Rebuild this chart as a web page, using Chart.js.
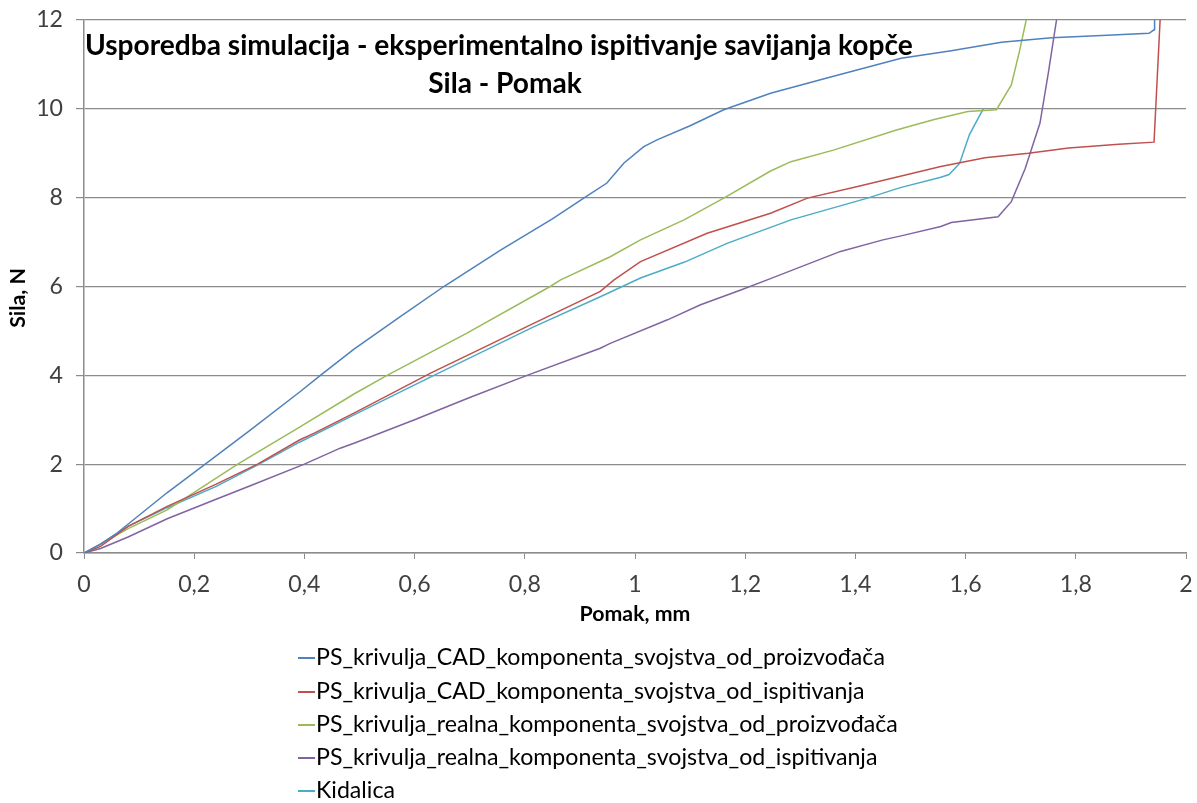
<!DOCTYPE html>
<html><head><meta charset="utf-8">
<script src="https://cdn.jsdelivr.net/npm/chart.js@4.4.1/dist/chart.umd.min.js"></script>
<style>html,body{margin:0;padding:0;background:#fff;}#wrap{width:1197px;height:803px;}</style>
</head><body><div id="wrap"><canvas id="c" width="1197" height="803"></canvas></div>
<script>
// ---- data ----
const seriesNames = [
  'PS_krivulja_CAD_komponenta_svojstva_od_proizvođača',
  'PS_krivulja_CAD_komponenta_svojstva_od_ispitivanja',
  'PS_krivulja_realna_komponenta_svojstva_od_proizvođača',
  'PS_krivulja_realna_komponenta_svojstva_od_ispitivanja',
  'Kidalica'
];
const cadProizX = [0,0.03,0.06,0.1,0.15,0.22,0.3,0.392,0.429,0.49,0.574,0.653,0.756,0.85,0.907,0.949,0.98,1.016,1.04,1.1,1.161,1.246,1.35,1.483,1.574,1.665,1.756,1.847,1.933,1.942,1.943];
const cadProizY = [0,0.2,0.45,0.85,1.35,2.0,2.75,3.63,4.0,4.59,5.32,6.0,6.82,7.52,7.99,8.33,8.78,9.15,9.3,9.62,9.98,10.35,10.7,11.14,11.31,11.5,11.6,11.65,11.7,11.78,12];
const cadIspX = [0,0.03,0.08,0.151,0.24,0.315,0.392,0.418,0.49,0.629,0.816,0.937,0.962,1.01,1.131,1.246,1.313,1.404,1.555,1.635,1.714,1.787,1.878,1.942,1.945,1.953];
const cadIspY = [0,0.15,0.6,1.05,1.55,2.0,2.55,2.7,3.15,4.05,5.17,5.89,6.15,6.56,7.2,7.65,7.99,8.25,8.7,8.9,9.0,9.12,9.2,9.25,10,12];
const realProizX = [0,0.03,0.08,0.151,0.279,0.392,0.49,0.55,0.695,0.846,0.865,0.955,1.01,1.089,1.161,1.246,1.283,1.36,1.476,1.543,1.604,1.656,1.683,1.698,1.71];
const realProizY = [0,0.2,0.55,0.97,2.0,2.84,3.58,4.0,4.95,6.0,6.15,6.67,7.05,7.5,7.99,8.6,8.81,9.07,9.53,9.76,9.94,9.98,10.54,11.31,12];
const realIspX = [0,0.03,0.08,0.151,0.242,0.303,0.4,0.465,0.49,0.6,0.7,0.804,0.937,0.955,1.059,1.119,1.192,1.24,1.373,1.45,1.483,1.555,1.574,1.659,1.683,1.708,1.735,1.75,1.765];
const realIspY = [0,0.1,0.36,0.77,1.22,1.52,2.0,2.36,2.47,3.0,3.5,4.0,4.61,4.72,5.25,5.59,5.92,6.15,6.79,7.05,7.14,7.35,7.44,7.57,7.91,8.65,9.68,10.8,12];
const kidalicaX = [0,0.03,0.08,0.151,0.24,0.318,0.392,0.49,0.635,0.816,0.937,1.01,1.09,1.167,1.283,1.422,1.48,1.555,1.57,1.589,1.607,1.632];
const kidalicaY = [0,0.2,0.6,1.02,1.5,2.0,2.5,3.11,4.0,5.09,5.77,6.19,6.55,6.97,7.5,7.99,8.22,8.46,8.52,8.77,9.42,10.0];
const xTickValues = [0,0.2,0.4,0.6,0.8,1,1.2,1.4,1.6,1.8,2];
const xTickLabels = ['0','0,2','0,4','0,6','0,8','1','1,2','1,4','1,6','1,8','2'];
const yTickValues = [0,2,4,6,8,10,12];
const titleLines = ['Usporedba simulacija - eksperimentalno ispitivanje savijanja kopče','Sila - Pomak'];
const xTitle = 'Pomak, mm';
const yTitle = 'Sila, N';
const colors = ['#4F81BD','#C0504D','#9BBB59','#8064A2','#4BACC6'];

// ---- helpers ----
const FAM = 'Lato, "Open Sans", "Liberation Sans", sans-serif';
const mctx = document.createElement('canvas').getContext('2d');
function fit(text, weight, target){ mctx.font = weight+' 100px '+FAM; return 100*target/mctx.measureText(text).width; }
const legendSize = fit(seriesNames[0], 'normal', 569);
const titleSize = fit(titleLines[0], 'bold', 828);
const tickSize = legendSize;

function pts(xs, ys){ return xs.map((x,i)=>({x:x, y:ys[i]})); }
const xy = [[cadProizX,cadProizY],[cadIspX,cadIspY],[realProizX,realProizY],[realIspX,realIspY],[kidalicaX,kidalicaY]];

const decor = {
  id:'decor',
  afterDraw(chart){
    const ctx = chart.ctx; const a = chart.chartArea;
    ctx.save();
    ctx.fillStyle = '#000';
    ctx.font = 'bold '+titleSize.toFixed(2)+'px '+FAM;
    ctx.textBaseline = 'alphabetic';
    ctx.textAlign = 'left';
    ctx.fillText(titleLines[0], 85, 55);
    ctx.textAlign = 'center';
    ctx.fillText(titleLines[1], 505, 93);
    ctx.font = 'bold '+(tickSize*0.92).toFixed(2)+'px '+FAM;
    ctx.textBaseline = 'middle';
    ctx.fillText(xTitle, (a.left+a.right)/2, 614);
    ctx.save();
    ctx.translate(18, 298);
    ctx.rotate(-Math.PI/2);
    ctx.fillText(yTitle, 0, 0);
    ctx.restore();
    ctx.font = legendSize.toFixed(2)+'px '+FAM;
    ctx.textAlign = 'left';
    const rows = [658, 692, 725, 758, 791];
    chart.data.datasets.forEach((ds,i)=>{
      ctx.strokeStyle = ds.borderColor; ctx.lineWidth = 2;
      ctx.beginPath(); ctx.moveTo(298, rows[i]); ctx.lineTo(315, rows[i]); ctx.stroke();
      ctx.fillStyle = '#000';
      ctx.fillText(ds.label, 316, rows[i]);
    });
    ctx.restore();
  }
};

new Chart(document.getElementById('c'), {
  type:'line',
  data:{ datasets: seriesNames.map((n,i)=>({
    label:n, data:pts(xy[i][0], xy[i][1]), borderColor:colors[i], backgroundColor:colors[i],
    borderWidth:1.5, pointRadius:0, tension:0, fill:false
  }))},
  options:{
    responsive:false, animation:false, devicePixelRatio:1,
    layout:{padding:{top:20,right:11,bottom:180,left:0}},
    plugins:{legend:{display:false}, tooltip:{enabled:false}, title:{display:false}},
    scales:{
      x:{type:'linear', min:0, max:2,
        afterBuildTicks(s){ s.ticks = xTickValues.map(v=>({value:v})); },
        afterFit(s){ s.height = 70; s.paddingLeft = 0; s.paddingRight = 0; },
        ticks:{ callback:(v,i)=>xTickLabels[i], font:{family:FAM,size:tickSize}, color:'#404040', padding:12, maxRotation:0, autoSkip:false},
        grid:{drawOnChartArea:false, drawTicks:true, tickLength:6, color:'#8c8c8c'},
        border:{color:'#8c8c8c', width:1.5}
      },
      y:{type:'linear', min:0, max:12,
        afterBuildTicks(s){ s.ticks = yTickValues.map(v=>({value:v})); },
        afterFit(s){ s.width = 84; s.paddingTop = 0; s.paddingBottom = 0; },
        ticks:{ font:{family:FAM,size:tickSize}, color:'#404040', padding:13},
        grid:{color:'#8c8c8c', lineWidth:1.2, tickLength:8},
        border:{color:'#8c8c8c', width:1.5}
      }
    }
  },
  plugins:[decor]
});
</script></body></html>
